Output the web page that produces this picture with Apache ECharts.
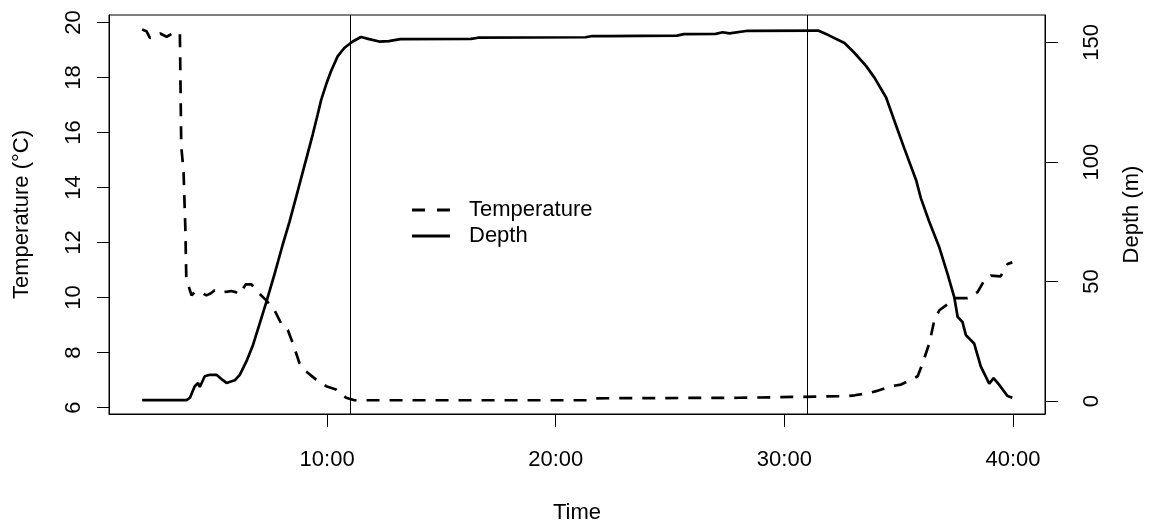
<!DOCTYPE html>
<html>
<head>
<meta charset="utf-8">
<script src="https://cdn.jsdelivr.net/npm/echarts@6/dist/echarts.min.js"></script>
<style>
html,body{margin:0;padding:0;background:#fff;}
#chart{width:1151px;height:529px;}
</style>
</head>
<body>
<div id="chart"></div>
<script>
// Time in minutes
var timeTicks = [10, 20, 30, 40];
var tempTicks = [6, 8, 10, 12, 14, 16, 18, 20];
var depthTicks = [0, 50, 100, 150];
var boundaryTimes = [11.0, 31.0];

var tempTime = [1.91, 2.1, 2.25, 2.5, 2.7, 2.98, 3.2, 3.4, 3.56, 3.62, 3.72, 3.8, 3.84, 3.95, 4.07, 4.21, 4.45, 4.72, 4.9, 5.08, 5.25, 5.45, 5.65, 5.81, 6.0, 6.18, 6.3, 6.44, 6.69, 6.97, 7.34, 7.7, 7.99, 8.28, 8.5, 8.79, 9.08, 9.52, 9.96, 10.39, 10.83, 11.2, 15.0, 21.4, 21.7, 28.0, 32.78, 33.07, 33.65, 34.01, 34.67, 35.1, 35.54, 35.83, 36.05, 36.34, 36.56, 36.78, 37.07, 37.43, 38.01, 38.45, 38.74, 39.03, 39.46, 39.76, 39.97];
var tempValues = [19.74, 19.68, 19.44, 19.5, 19.6, 19.48, 19.58, 19.6, 19.62, 15.5, 14.6, 12.5, 10.74, 10.4, 10.08, 10.2, 10.2, 10.08, 10.15, 10.26, 10.2, 10.2, 10.22, 10.24, 10.2, 10.12, 10.3, 10.48, 10.48, 10.2, 9.9, 9.54, 9.06, 8.82, 8.34, 7.62, 7.32, 7.02, 6.78, 6.66, 6.36, 6.27, 6.27, 6.27, 6.34, 6.36, 6.42, 6.45, 6.52, 6.6, 6.78, 6.84, 7.02, 7.14, 7.62, 8.34, 9.18, 9.54, 9.72, 9.98, 9.98, 10.2, 10.62, 10.8, 10.77, 11.22, 11.28];

var depthTime = [1.91, 3.85, 4.0, 4.21, 4.36, 4.43, 4.65, 4.87, 5.16, 5.38, 5.6, 5.96, 6.18, 6.47, 6.76, 7.05, 7.34, 7.7, 8.06, 8.36, 8.65, 8.87, 9.08, 9.37, 9.59, 9.74, 9.96, 10.17, 10.46, 10.75, 11.12, 11.48, 11.84, 12.28, 12.7, 13.2, 16.3, 16.6, 21.3, 21.6, 22.2, 25.3, 25.6, 27.0, 27.3, 27.6, 28.4, 31.47, 31.9, 32.63, 33.07, 33.58, 33.94, 34.45, 34.89, 35.25, 35.76, 35.97, 36.33, 36.78, 37.14, 37.43, 37.58, 37.79, 37.94, 38.3, 38.59, 38.96, 39.15, 39.39, 39.76, 39.97];
var depthValues = [0.4, 0.4, 1.4, 6.2, 7.6, 5.9, 10.4, 11.0, 11.0, 9.2, 7.6, 8.7, 11.0, 16.6, 23.5, 32.4, 41.4, 53.1, 65.5, 75.2, 85.5, 93.5, 101.0, 111.5, 120.0, 126.0, 132.5, 138.0, 144.2, 147.7, 150.4, 152.3, 151.4, 150.4, 150.6, 151.4, 151.5, 152.0, 152.2, 152.7, 152.7, 152.9, 153.5, 153.6, 154.3, 153.8, 154.9, 155.0, 153.2, 149.8, 145.6, 140.1, 135.3, 127.0, 115.2, 105.6, 92.5, 84.9, 75.2, 64.2, 53.1, 43.5, 35.2, 33.1, 27.6, 24.1, 14.5, 7.3, 9.6, 6.9, 2.1, 1.4];

function pairs(xs, ys) { return xs.map(function (x, i) { return [x, ys[i]]; }); }

var FONT = "'Liberation Sans', Arial, Helvetica, sans-serif";
var FS = 22;

var chart = echarts.init(document.getElementById('chart'), null, {renderer: 'canvas'});
chart.setOption({
  animation: false,
  backgroundColor: '#fff',
  textStyle: {fontFamily: FONT, color: '#000'},
  grid: {left: 109, right: 102, top: 15, bottom: 111, show: true, borderColor: '#000', borderWidth: 1, backgroundColor: 'transparent'},
  legend: {
    show: true, orient: 'vertical', left: 407, top: 194, itemWidth: 38, itemHeight: 3, itemGap: 4,
    data: [
      {name: 'Temperature', icon: 'path://M0,0 H13 V3 H0 Z M25,0 H38 V3 H25 Z'},
      {name: 'Depth', icon: 'path://M0,0 H38 V3 H0 Z'}
    ],
    itemStyle: {color: '#000', borderWidth: 0},
    lineStyle: {width: 0},
    textStyle: {fontFamily: FONT, fontSize: FS, color: '#000', padding: [0, 0, 0, 14]},
    inactiveColor: '#000'
  },
  xAxis: {
    type: 'value', min: 0.46, max: 41.4,
    name: 'Time', nameLocation: 'middle', nameGap: 88,
    nameTextStyle: {fontFamily: FONT, fontSize: FS, color: '#000'},
    axisLine: {show: true, onZero: false, lineStyle: {color: '#000', width: 1}},
    axisTick: {show: true, inside: false, length: 13, customValues: timeTicks, lineStyle: {color: '#000', width: 1}},
    axisLabel: {show: true, customValues: timeTicks, margin: 35, fontFamily: FONT, fontSize: FS, color: '#000',
      formatter: function (v) { return v + ':00'; }},
    splitLine: {show: false}
  },
  yAxis: [{
    type: 'value', min: 5.77, max: 20.27, position: 'left',
    name: 'Temperature (°C)', nameLocation: 'middle', nameRotate: 90, nameGap: 76,
    nameTextStyle: {fontFamily: FONT, fontSize: FS, color: '#000'},
    axisLine: {show: true, lineStyle: {color: '#000', width: 1}},
    axisTick: {show: true, inside: false, length: 12, customValues: tempTicks, lineStyle: {color: '#000', width: 1}},
    axisLabel: {show: true, customValues: tempTicks, rotate: 90, margin: 24, fontFamily: FONT, fontSize: FS, color: '#000'},
    splitLine: {show: false}
  }, {
    type: 'value', min: -5.4, max: 161.5, position: 'right',
    name: 'Depth (m)', nameLocation: 'middle', nameRotate: 90, nameGap: 76,
    nameTextStyle: {fontFamily: FONT, fontSize: FS, color: '#000'},
    axisLine: {show: true, lineStyle: {color: '#000', width: 1}},
    axisTick: {show: true, inside: false, length: 13, customValues: depthTicks, lineStyle: {color: '#000', width: 1}},
    axisLabel: {show: true, customValues: depthTicks, rotate: 90, margin: 36, fontFamily: FONT, fontSize: FS, color: '#000'},
    splitLine: {show: false}
  }],
  series: [{
    name: 'Temperature', type: 'line', yAxisIndex: 0, symbol: 'none', smooth: false,
    data: pairs(tempTime, tempValues),
    itemStyle: {color: '#000'},
    lineStyle: {color: '#000', width: 2.7, type: [13, 10], cap: 'butt'},
    markLine: {
      silent: true, symbol: 'none', label: {show: false},
      lineStyle: {color: '#000', width: 1, type: 'solid'},
      data: boundaryTimes.map(function (t) { return {xAxis: t}; })
    }
  }, {
    name: 'Depth', type: 'line', yAxisIndex: 1, symbol: 'none', smooth: false,
    data: pairs(depthTime, depthValues),
    itemStyle: {color: '#000'},
    lineStyle: {color: '#000', width: 2.7, type: 'solid'}
  }]
});
</script>
</body>
</html>
